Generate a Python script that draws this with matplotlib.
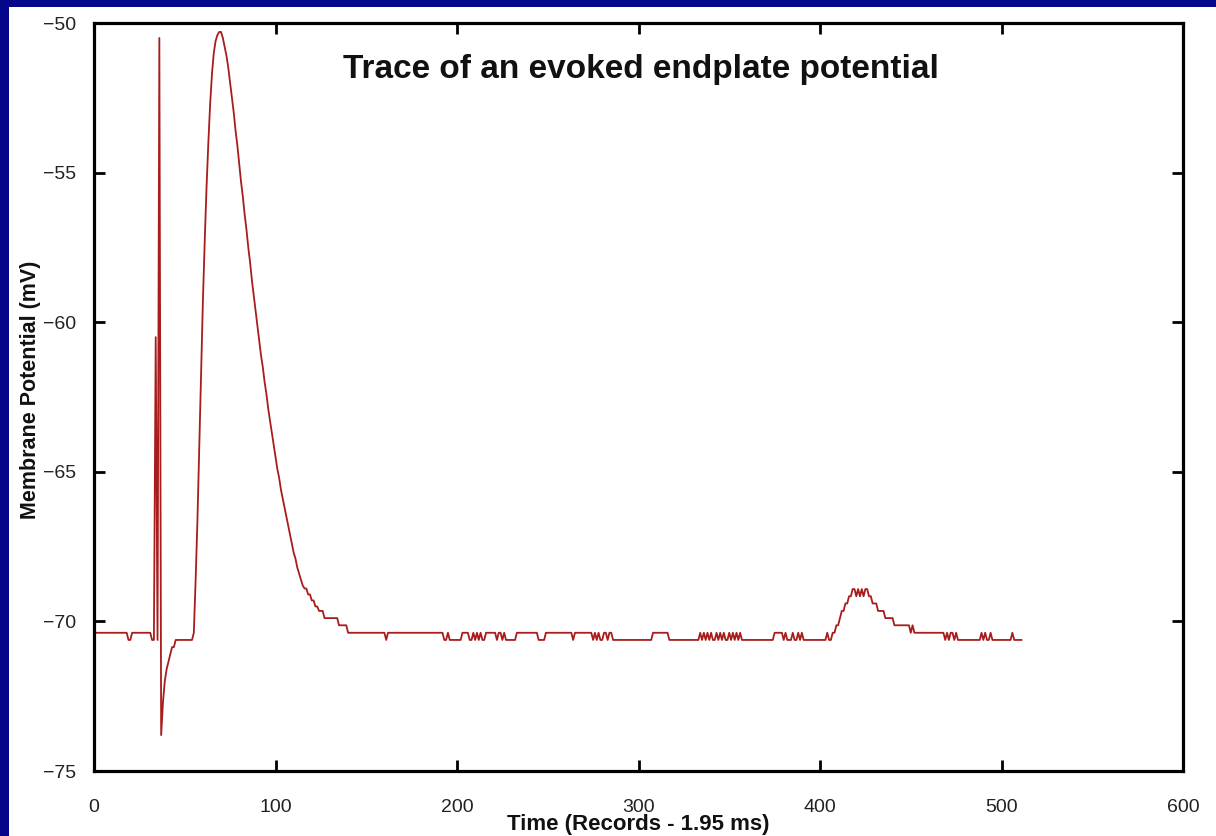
import numpy as np
import matplotlib
matplotlib.use("Agg")
import matplotlib.pyplot as plt
from matplotlib.patches import Rectangle

# change points of the recorded trace (record index, membrane potential mV)
# each value holds until the next change point
rec_start = [0, 19, 21, 32, 34, 35, 36, 37, 38, 39, 40, 41, 42, 43, 45, 55,
             56, 57, 58, 59, 60, 61, 62, 63, 64, 65, 66, 67, 68, 69, 70,
             71, 72, 73, 74, 75, 76, 77, 78, 79, 80, 81, 82, 83, 84, 85,
             86, 87, 88, 89, 90, 91, 92, 93, 94, 95, 96, 97, 98, 99, 100,
             101, 102, 103, 104, 105, 106, 107, 108, 109, 110, 111, 112, 113, 114, 115,
             116, 118, 120, 122, 124, 127, 135, 140,
             161, 162, 193, 195, 196, 203, 207, 209, 210, 211, 212, 213, 214, 216,
             222, 223, 225, 226, 227, 233, 245, 249, 264, 265,
             275, 276, 277, 278, 279, 281, 283, 284, 286, 308, 317,
             334, 335, 336, 337, 338, 339, 340, 341, 343, 344, 345, 346, 347, 348,
             350, 351, 352, 353, 354, 355, 356, 357, 375, 380, 381, 382, 385, 386,
             388, 389, 390, 391, 404, 405, 407,
             409, 411, 412, 414, 416, 418, 420, 421, 422, 423, 424, 425, 427, 429,
             432, 436, 441, 450, 451, 452,
             469, 470, 471, 472, 474, 475, 476, 489, 490, 491, 492, 494, 495,
             506, 507, 511]
potential = [-70.38, -70.62, -70.38, -70.62, -60.5, -70.62, -50.5, -73.8, -72.7, -72.0, -71.6, -71.35, -71.11, -70.86, -70.62, -70.38,
             -68.6, -66.6, -64.2, -61.7, -59.3, -57.3, -55.5, -54.0, -52.7, -51.7, -51.0, -50.6, -50.4, -50.3, -50.3,
             -50.5, -50.8, -51.1, -51.5, -52.0, -52.5, -53.0, -53.6, -54.1, -54.7, -55.3, -55.8, -56.4, -56.9, -57.5,
             -58.0, -58.6, -59.1, -59.6, -60.1, -60.6, -61.1, -61.5, -62.0, -62.4, -62.9, -63.3, -63.7, -64.1, -64.5,
             -64.9, -65.2, -65.6, -65.9, -66.2, -66.5, -66.8, -67.1, -67.4, -67.7, -67.9, -68.2, -68.4, -68.6, -68.8,
             -68.9, -69.1, -69.3, -69.5, -69.65, -69.89, -70.13, -70.38,
             -70.62, -70.38, -70.62, -70.38, -70.62, -70.38, -70.62, -70.38, -70.62, -70.38, -70.62, -70.38, -70.62, -70.38,
             -70.62, -70.38, -70.62, -70.38, -70.62, -70.38, -70.62, -70.38, -70.62, -70.38,
             -70.62, -70.38, -70.62, -70.38, -70.62, -70.38, -70.62, -70.38, -70.62, -70.38, -70.62,
             -70.38, -70.62, -70.38, -70.62, -70.38, -70.62, -70.38, -70.62, -70.38, -70.62, -70.38, -70.62, -70.38, -70.62,
             -70.38, -70.62, -70.38, -70.62, -70.38, -70.62, -70.38, -70.62, -70.38, -70.62, -70.38, -70.62, -70.38, -70.62,
             -70.38, -70.62, -70.38, -70.62, -70.38, -70.62, -70.38,
             -70.13, -69.89, -69.65, -69.40, -69.16, -68.92, -69.16, -68.92, -69.16, -68.92, -69.16, -68.92, -69.16, -69.40,
             -69.65, -69.89, -70.13, -70.38, -70.13, -70.38,
             -70.62, -70.38, -70.62, -70.38, -70.62, -70.38, -70.62, -70.38, -70.62, -70.38, -70.62, -70.38, -70.62,
             -70.38, -70.62, -70.62]

xticks = [0, 100, 200, 300, 400, 500, 600]
yticks = [-75, -70, -65, -60, -55, -50]

rec_start = np.array(rec_start)
potential = np.array(potential)
records = np.arange(rec_start[0], rec_start[-1] + 1)
trace = potential[np.searchsorted(rec_start, records, side="right") - 1]

plt.rcParams['font.family'] = ['Liberation Sans', 'DejaVu Sans']

fig = plt.figure(figsize=(12.16, 8.36), dpi=100, facecolor='white')
# blue slide background peeking out at the top and left
fig.patches.append(Rectangle((0, 1 - 7 / 836), 1, 7 / 836, transform=fig.transFigure,
                             facecolor='#06068a', edgecolor='none', zorder=0))
fig.patches.append(Rectangle((0, 0), 9 / 1216, 1, transform=fig.transFigure,
                             facecolor='#06068a', edgecolor='none', zorder=0))

ax = fig.add_axes([94 / 1216, 65 / 836, 1089 / 1216, 748 / 836])
ax.plot(records, trace, color='#a81c1c', lw=1.3)

ax.set_xlim(0, 600)
ax.set_ylim(-75, -50)
ax.set_xticks(xticks)
ax.set_yticks(yticks)
ax.set_yticklabels(['\u221275', '\u221270', '\u221265', '\u221260', '\u221255', '\u221250'])
ax.tick_params(direction='in', length=8, width=2, top=True, right=True,
               labelsize=14, labelcolor='#222222', color='black')
ax.tick_params(axis='x', pad=20)
ax.tick_params(axis='y', pad=13)
for s in ax.spines.values():
    s.set_linewidth(2.3)

ax.text(0.502, 0.938, 'Trace of an evoked endplate potential', transform=ax.transAxes,
        ha='center', va='center', fontsize=24, fontweight='bold', color='#111111')
ax.set_xlabel('Time (Records - 1.95 ms)', fontsize=16, fontweight='bold', color='#111111')
ax.xaxis.set_label_coords(0.5, -0.058)
ax.xaxis.label.set_va('top')
ax.set_ylabel('Membrane Potential (mV)', fontsize=15.5, fontweight='bold', color='#111111')
ax.yaxis.set_label_coords(-0.058, 0.51)
ax.yaxis.label.set_va('center')

fig.savefig('out.png', dpi=100, facecolor=fig.get_facecolor())
